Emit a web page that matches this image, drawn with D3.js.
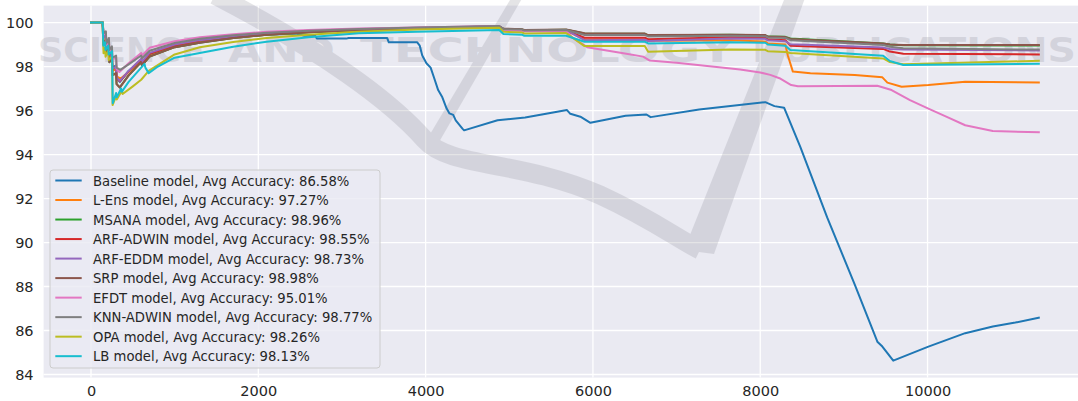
<!DOCTYPE html>
<html>
<head>
<meta charset="utf-8">
<script src="https://cdn.jsdelivr.net/npm/d3@7"></script>
<style>
  html, body { margin: 0; padding: 0; background: #ffffff; }
  svg { display: block; font-family: "DejaVu Sans", sans-serif; }
</style>
</head>
<body>
<svg id="chart" width="1078" height="401"></svg>
<script>
// Cumulative accuracy (%) per model against instance count, as [x, y] pairs.
const baseline = [[0,100],[140,100],[150,99.35],[178,99.45],[184,98.85],[214,99.05],[220,98.45],[250,98.6],[256,97.95],[300,98.05],[306,97.5],[345,97.3],[450,97.8],[600,98.3],[610,98.15],[700,98.55],[1000,98.95],[1300,99.15],[1700,99.33],[2100,99.45],[2450,99.5],[2550,99.40],[2680,99.40],[2700,99.27],[3050,99.27],[3080,99.30],[3540,99.30],[3560,99.10],[3900,99.10],[3930,98.95],[3960,98.5],[4010,98.15],[4060,97.95],[4100,97.5],[4150,96.93],[4200,96.6],[4250,96.1],[4285,95.87],[4330,95.8],[4360,95.55],[4440,95.18],[4460,95.10],[4860,95.56],[5190,95.68],[5690,96.02],[5730,95.85],[5850,95.72],[5970,95.44],[6390,95.76],[6640,95.82],[6690,95.70],[7270,96.05],[8060,96.38],[8170,96.2],[8285,96.13],[8480,94.34],[8800,91.14],[9130,88.09],[9400,85.49],[9460,85.27],[9590,84.63],[10010,85.27],[10450,85.88],[10780,86.18],[11050,86.36],[11330,86.58]];
const lEns = [[0,100],[140,100],[146,99.1],[178,99.25],[184,98.65],[214,98.9],[220,98.3],[250,98.45],[256,97.8],[300,97.9],[306,97.55],[355,97.45],[450,97.75],[600,98.2],[610,98.05],[700,98.48],[1000,98.88],[1300,99.1],[1700,99.3],[2100,99.45],[2600,99.56],[3200,99.65],[3900,99.73],[4880,99.81],[4930,99.67],[5150,99.65],[5180,99.61],[5680,99.63],[5900,99.23],[6620,99.24],[6660,99.17],[7640,99.20],[8060,99.13],[8090,99.05],[8300,99.0],[8330,98.5],[8390,97.77],[8600,97.70],[9130,97.62],[9460,97.51],[9520,97.27],[9690,97.08],[10010,97.16],[10450,97.31],[11330,97.27]];
const msana = [[0,100],[140,100],[146,99.0],[178,99.2],[184,98.6],[214,98.85],[220,98.2],[250,98.35],[256,97.6],[300,97.7],[306,97.2],[345,97.05],[450,97.6],[600,98.2],[610,98.05],[700,98.45],[1000,98.88],[1300,99.08],[1700,99.3],[2100,99.45],[2600,99.56],[3200,99.66],[3900,99.74],[4880,99.83],[4930,99.71],[5150,99.69],[5180,99.65],[5680,99.67],[5900,99.50],[6620,99.49],[6660,99.42],[7640,99.44],[8060,99.42],[8090,99.36],[8300,99.35],[8360,99.28],[9470,99.05],[9550,99.0],[9710,98.97],[11330,98.96]];
const arfAdwin = [[0,100],[140,100],[150,99.3],[178,99.4],[184,98.78],[214,98.98],[220,98.38],[250,98.52],[256,97.88],[300,97.98],[306,97.48],[345,97.33],[450,97.78],[600,98.32],[610,98.18],[700,98.58],[1000,98.97],[1300,99.18],[1700,99.36],[2100,99.5],[2600,99.6],[3200,99.69],[3900,99.75],[4880,99.82],[4930,99.68],[5150,99.66],[5180,99.62],[5680,99.64],[5900,99.31],[6620,99.31],[6660,99.24],[7640,99.33],[8060,99.31],[8090,99.24],[8300,99.20],[8360,98.95],[9470,98.80],[9550,98.68],[9710,98.58],[11330,98.55]];
const arfEddm = [[0,100],[140,100],[150,99.32],[178,99.42],[184,98.8],[214,99.0],[220,98.4],[250,98.55],[256,97.9],[300,98.0],[306,97.5],[345,97.35],[450,97.8],[600,98.35],[610,98.22],[700,98.62],[1000,99.0],[1300,99.2],[1700,99.38],[2100,99.51],[2600,99.61],[3200,99.70],[3900,99.76],[4880,99.83],[4930,99.69],[5150,99.67],[5180,99.63],[5680,99.65],[5900,99.20],[6620,99.22],[6660,99.16],[7640,99.28],[8060,99.26],[8090,99.19],[8300,99.15],[8360,99.01],[9470,98.86],[9550,98.80],[9710,98.77],[11330,98.73]];
const srp = [[0,100],[140,100],[146,99.0],[178,99.2],[184,98.6],[214,98.85],[220,98.2],[250,98.35],[256,97.6],[300,97.7],[306,97.2],[345,97.05],[450,97.6],[600,98.2],[610,98.05],[700,98.45],[1000,98.88],[1300,99.08],[1700,99.3],[2100,99.45],[2600,99.56],[3200,99.66],[3900,99.74],[4880,99.83],[4930,99.72],[5150,99.70],[5180,99.66],[5680,99.68],[5900,99.51],[6620,99.50],[6660,99.43],[7640,99.45],[8060,99.43],[8090,99.36],[8300,99.34],[8360,99.25],[9470,99.05],[9550,99.0],[9710,98.98],[11330,98.98]];
const efdt = [[0,100],[140,100],[150,99.45],[178,99.55],[184,98.95],[214,99.2],[220,98.7],[250,98.85],[256,98.3],[300,98.45],[306,97.9],[340,97.75],[450,98.15],[600,98.62],[610,98.5],[700,98.85],[1000,99.15],[1300,99.33],[1700,99.47],[2100,99.58],[2600,99.66],[3200,99.73],[3900,99.78],[4880,99.84],[4930,99.64],[5150,99.62],[5180,99.60],[5680,99.62],[5760,99.30],[5930,98.88],[6400,98.58],[6600,98.45],[6680,98.27],[7000,98.17],[7760,97.87],[8000,97.73],[8120,97.62],[8230,97.47],[8370,97.16],[8450,97.10],[9400,97.13],[9570,96.93],[9790,96.47],[10010,96.09],[10230,95.71],[10450,95.33],[10780,95.07],[11330,95.01]];
const knnAdwin = [[0,100],[140,100],[150,99.52],[178,99.6],[184,99.05],[214,99.3],[220,98.75],[250,98.92],[256,98.4],[300,98.5],[306,97.95],[350,97.85],[450,98.1],[600,98.5],[610,98.38],[700,98.72],[1000,99.07],[1300,99.26],[1700,99.42],[2100,99.54],[2600,99.63],[3200,99.71],[3900,99.77],[4880,99.84],[4930,99.70],[5150,99.68],[5180,99.64],[5680,99.66],[5900,99.43],[6620,99.43],[6660,99.37],[7640,99.40],[8060,99.38],[8090,99.32],[8300,99.30],[8360,99.20],[9470,98.98],[9550,98.90],[9710,98.83],[11330,98.77]];
const opa = [[0,100],[140,100],[146,99.0],[150,98.6],[168,98.85],[174,98.45],[205,98.7],[212,98.3],[252,98.45],[258,96.25],[300,96.65],[308,96.5],[370,96.9],[378,96.75],[500,97.1],[600,97.4],[690,97.8],[1000,98.55],[1300,98.88],[1700,99.12],[2100,99.3],[2600,99.45],[3200,99.58],[3900,99.68],[4880,99.76],[4930,99.58],[5150,99.55],[5180,99.50],[5680,99.52],[5900,98.93],[6620,98.93],[6660,98.67],[7640,98.78],[8060,98.76],[8090,98.70],[8300,98.66],[8360,98.62],[9470,98.37],[9550,98.20],[9710,98.10],[11330,98.26]];
const lb = [[0,100],[140,100],[148,98.95],[168,99.1],[174,98.75],[205,98.95],[212,98.55],[252,98.7],[260,96.33],[300,96.8],[308,96.6],[360,97.0],[368,96.85],[450,97.3],[600,97.95],[640,98.12],[650,97.95],[690,97.7],[800,98.0],[1000,98.4],[1300,98.62],[1700,98.9],[2100,99.13],[2600,99.33],[3200,99.51],[3900,99.58],[4880,99.66],[4930,99.48],[5150,99.45],[5180,99.40],[5680,99.40],[5900,99.13],[6620,99.13],[6660,99.05],[7640,99.10],[8060,99.08],[8090,99.00],[8300,98.95],[8360,98.75],[9470,98.49],[9550,98.25],[9710,98.07],[11330,98.13]];

const modelNames = ["Baseline", "L-Ens", "MSANA", "ARF-ADWIN", "ARF-EDDM", "SRP", "EFDT", "KNN-ADWIN", "OPA", "LB"];
const avgAccuracy = [86.58, 97.27, 98.96, 98.55, 98.73, 98.98, 95.01, 98.77, 98.26, 98.13];
const seriesList = [baseline, lEns, msana, arfAdwin, arfEddm, srp, efdt, knnAdwin, opa, lb];

const xTicks = [0, 2000, 4000, 6000, 8000, 10000];
const yTicks = [84, 86, 88, 90, 92, 94, 96, 98, 100];

// tab10 palette
const palette = ["#1f77b4", "#ff7f0e", "#2ca02c", "#d62728", "#9467bd",
                 "#8c564b", "#e377c2", "#7f7f7f", "#bcbd22", "#17becf"];

const svg = d3.select("#chart");
const plot = { left: 43.6, right: 1086.2, top: 5.6, bottom: 377.6 };

const x = d3.scaleLinear().domain([-566.5, 11896.5]).range([plot.left, plot.right]);
const y = d3.scaleLinear().domain([83.86, 100.77]).range([plot.bottom, plot.top]);

// axes background
svg.append("rect")
  .attr("x", plot.left).attr("y", plot.top)
  .attr("width", plot.right - plot.left).attr("height", plot.bottom - plot.top)
  .attr("fill", "#eaeaf2");

// grid
const grid = svg.append("g").attr("stroke", "#ffffff").attr("stroke-width", 1.3);
grid.selectAll("line.gx").data(xTicks).enter().append("line")
  .attr("x1", d => x(d)).attr("x2", d => x(d))
  .attr("y1", plot.top).attr("y2", plot.bottom);
grid.selectAll("line.gy").data(yTicks).enter().append("line")
  .attr("x1", plot.left).attr("x2", plot.right)
  .attr("y1", d => y(d)).attr("y2", d => y(d));

// publisher watermark
const wmColor = "#8c8c96";
const wm = svg.append("g").attr("fill", wmColor).attr("opacity", 0.23);
wm.append("path")
  .attr("d", "M 215 -5 C 320 50 390 100 425 140 C 450 168 520 160 600 195 C 650 218 680 240 700 250")
  .attr("fill", "none").attr("stroke", wmColor).attr("stroke-width", 19);
wm.append("path").attr("d", "M 684 250 L 714 254 L 806 -5 L 786 -5 Z");
wm.append("path").attr("d", "M 423 146 L 435 149 L 524 -5 L 513 -5 Z");
const words = [["SCIENCE", 38, 205], ["AND", 228, 335], ["TECHNOLOGY", 360, 735], ["PUBLICATIONS", 752, 1076]];
words.forEach(w => {
  wm.append("text")
    .attr("x", w[1]).attr("y", 62)
    .attr("textLength", w[2] - w[1]).attr("lengthAdjust", "spacingAndGlyphs")
    .style("font-size", "33px").style("font-weight", "bold")
    .text(w[0]);
});

// model curves
const line = d3.line().x(d => x(d[0])).y(d => y(d[1]));
svg.append("g").selectAll("path").data(seriesList).enter().append("path")
  .attr("d", line)
  .attr("fill", "none")
  .attr("stroke", (d, i) => palette[i])
  .attr("stroke-width", 2)
  .attr("stroke-linejoin", "round")
  .attr("stroke-linecap", "square");

// tick labels
const tickColor = "#262626";
const tickSize = 14.5;
const xAxis = d3.axisBottom(x).tickValues(xTicks).tickSize(0).tickPadding(0).tickFormat(d3.format("d"));
const gx = svg.append("g").attr("transform", `translate(0,${plot.bottom})`).call(xAxis);
gx.select(".domain").remove();
gx.selectAll("text").attr("fill", tickColor).attr("dy", null).attr("y", 18)
  .style("font-size", tickSize + "px").style("font-family", "DejaVu Sans");

const yAxis = d3.axisLeft(y).tickValues(yTicks).tickSize(0).tickPadding(10).tickFormat(d3.format("d"));
const gy = svg.append("g").attr("transform", `translate(${plot.left},0)`).call(yAxis);
gy.select(".domain").remove();
gy.selectAll("text").attr("fill", tickColor).attr("dy", "0.36em")
  .style("font-size", tickSize + "px").style("font-family", "DejaVu Sans");

// legend
const legend = svg.append("g");
legend.append("rect")
  .attr("x", 50).attr("y", 170).attr("width", 330).attr("height", 198)
  .attr("rx", 3).attr("ry", 3)
  .attr("fill", "#eaeaf2").attr("fill-opacity", 0.8)
  .attr("stroke", "#cccccc").attr("stroke-width", 1);
const rowH = 19.52;
modelNames.forEach((name, i) => {
  const cy = 180.5 + i * rowH;
  legend.append("line")
    .attr("x1", 55.3).attr("x2", 81.7).attr("y1", cy).attr("y2", cy)
    .attr("stroke", palette[i]).attr("stroke-width", 2);
  legend.append("text")
    .attr("x", 93).attr("y", cy + 5.2)
    .attr("fill", tickColor)
    .style("font-size", "13.2px")
    .text(`${name} model, Avg Accuracy: ${avgAccuracy[i].toFixed(2)}%`);
});
</script>
</body>
</html>
